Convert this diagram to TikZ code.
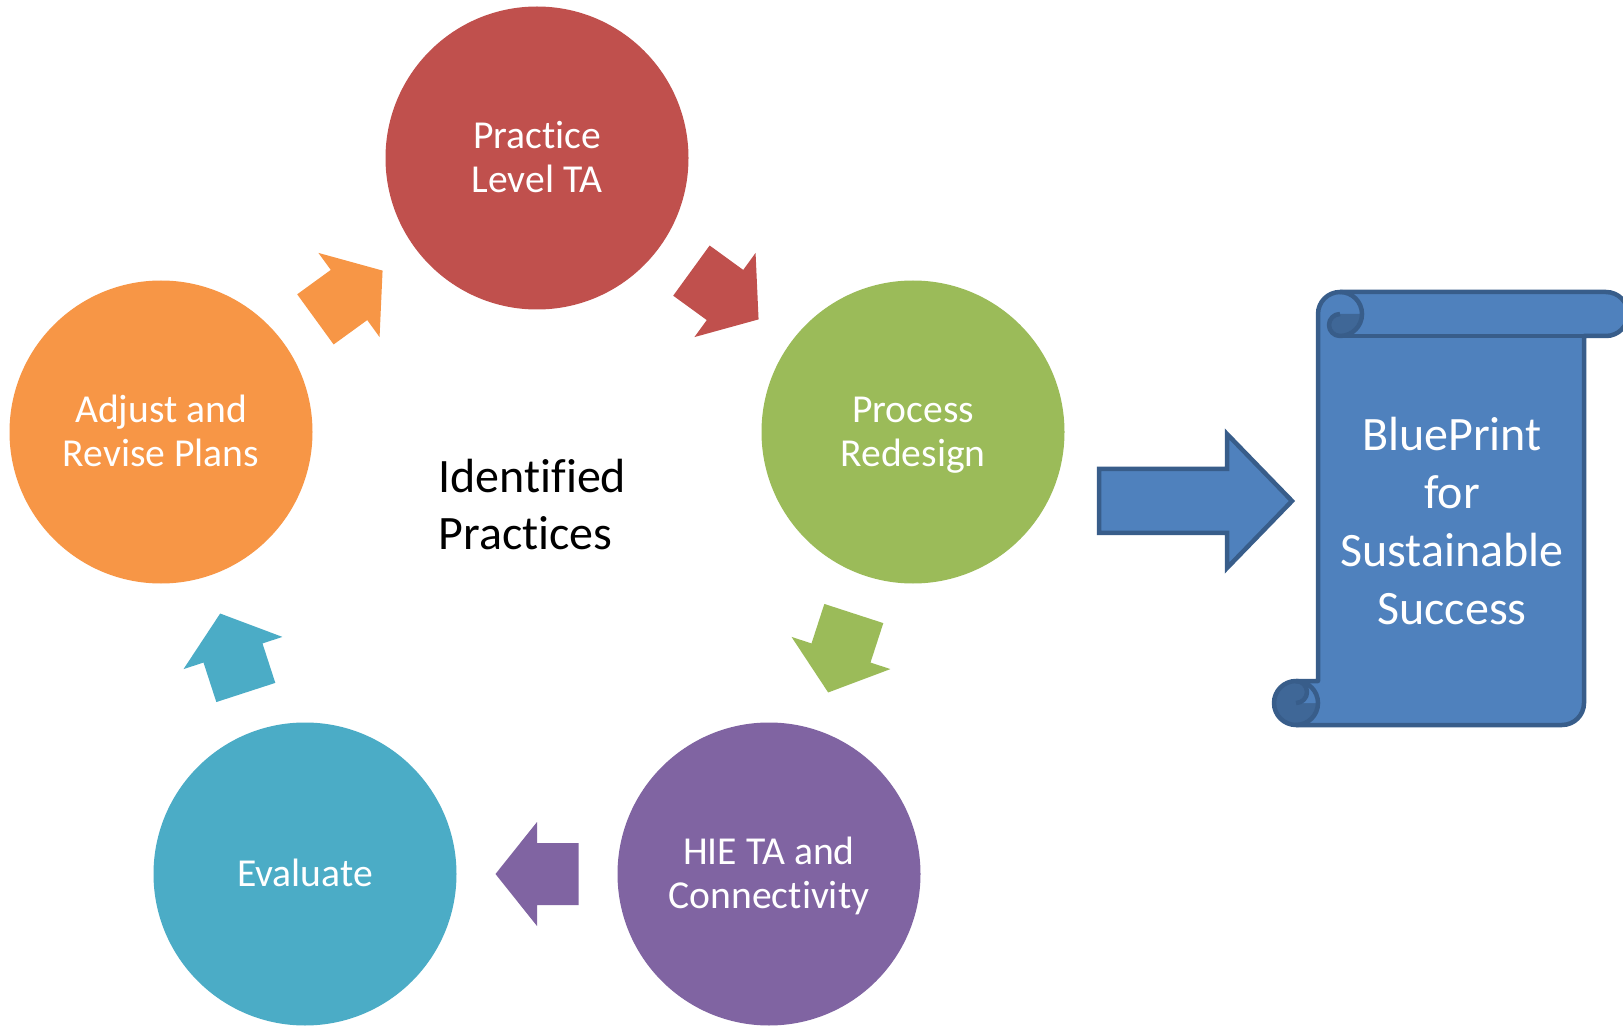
\documentclass[tikz,border=0pt]{standalone}
\usepackage{fontspec}
\setmainfont{Carlito}[Ligatures={NoCommon}]
\usetikzlibrary{calc}
\definecolor{cred}{HTML}{C0504D}
\definecolor{cgreen}{HTML}{9BBB59}
\definecolor{cpurple}{HTML}{8064A2}
\definecolor{cteal}{HTML}{4BACC6}
\definecolor{corange}{HTML}{F79646}
\definecolor{cblue}{HTML}{4F81BD}
\definecolor{cblueline}{HTML}{385D8A}
\definecolor{cbluedark}{HTML}{3F6797}
\newcommand{\sst}{\rule[-3.6pt]{0pt}{19.8pt}}
\tikzset{
  stage/.style={circle, minimum size=151.5pt, inner sep=0pt, draw=none, text=white,
    align=center, font=\fontsize{19.8}{22.3}\selectfont},
  blockarrow/.pic={\fill[pic actions] (-41.5,-31) -- (0,-31) -- (0,-52) -- (41.5,0)
    -- (0,52) -- (0,31) -- (-41.5,31) -- cycle;},
  bluebox/.style={draw=cblueline, line width=2.25pt, line join=round},
}
\begin{document}
\begin{tikzpicture}[x=0.5pt, y=-0.5pt]
\useasboundingbox (0,0) rectangle (1623,1026);
\clip (0,0) rectangle (1623,1026);
\fill[white] (0,0) rectangle (1623,1026);

% cycle stages
\node[stage, fill=cred]    (pl)  at (537,158) {\sst Practice\\Level TA\sst};
\node[stage, fill=cgreen]  (pr)  at (913,432) {\sst Process\\Redesign\sst};
\node[stage, fill=cpurple] (hie) at (769,874) {\sst HIE TA and\\Connectivity\sst};
\node[stage, fill=cteal]   (ev)  at (305,874) {\sst Evaluate};
\node[stage, fill=corange] (ad)  at (161,432) {\sst Adjust and\\Revise Plans\sst};

% block arrows between stages
\pic[fill=cred, rotate=-36]     at ($(pl)!0.5!(pr)$)  {blockarrow};
\pic[fill=cgreen, rotate=-108]  at ($(pr)!0.5!(hie)$) {blockarrow};
\pic[fill=cpurple, rotate=180]  at ($(hie)!0.5!(ev)$) {blockarrow};
\pic[fill=cteal, rotate=108]    at ($(ev)!0.5!(ad)$)  {blockarrow};
\pic[fill=corange, rotate=36]   at ($(ad)!0.5!(pl)$)  {blockarrow};

% centre label
\node[anchor=west, align=left, inner sep=0pt, font=\fontsize{24}{28.5}\selectfont] (ip)
  at (438,505) {Identified\\Practices};

% big arrow
\draw[bluebox, fill=cblue, line join=miter]
  (1099,469) -- (1227,469) -- (1227,434) -- (1292,501) -- (1227,568)
  -- (1227,533) -- (1099,533) -- cycle;

% scroll: body
\fill[cblue] (1318,314) arc[start angle=180, end angle=270, radius=22]
  -- (1606,292) arc[start angle=270, end angle=450, radius=22]
  -- (1584,336) -- (1584,703) arc[start angle=0, end angle=90, radius=22]
  -- (1296,725) arc[start angle=90, end angle=270, radius=22]
  -- (1318,681) -- cycle;
% darker curls
\fill[cbluedark] (1362,314) arc[start angle=0, end angle=90, radius=22]
  arc[start angle=90, end angle=270, radius=11] -- cycle;
\fill[cbluedark] (1296,703) circle[radius=22];
\fill[cblue] (1296,681) -- (1318,681) -- (1318,703) -- (1296,703)
  arc[start angle=90, end angle=-90, radius=11] -- cycle;
% outlines
\draw[bluebox] (1318,314) arc[start angle=180, end angle=270, radius=22]
  -- (1606,292) arc[start angle=270, end angle=450, radius=22]
  -- (1584,336) -- (1584,703) arc[start angle=0, end angle=90, radius=22]
  -- (1296,725) arc[start angle=90, end angle=270, radius=22]
  -- (1318,681) -- cycle;
\draw[bluebox] (1340,292) arc[start angle=270, end angle=450, radius=22]
  arc[start angle=90, end angle=270, radius=11];
\draw[bluebox] (1340,336) -- (1584,336);
\draw[bluebox] (1296,681) arc[start angle=-90, end angle=90, radius=22];
\draw[bluebox] (1296,703) arc[start angle=90, end angle=-90, radius=11];

\node[text=white, align=center, font=\fontsize{24}{29}\selectfont] (bp)
  at (1452,521) {BluePrint\\for\\Sustainable\\Success};
\end{tikzpicture}
\end{document}
